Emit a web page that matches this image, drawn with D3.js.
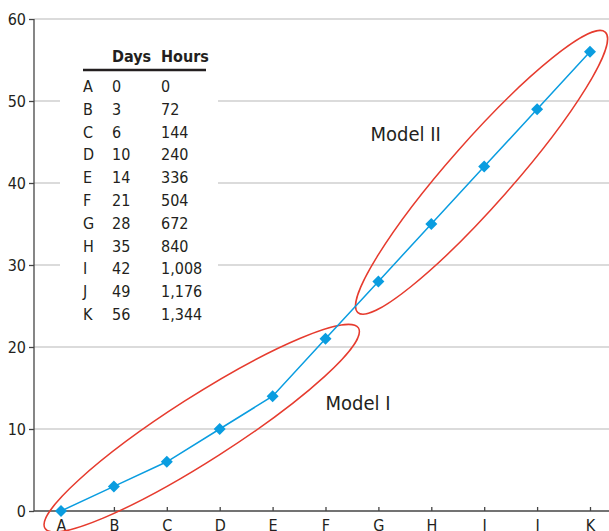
<!doctype html>
<html lang="en">
<head>
<meta charset="utf-8">
<title>Models</title>
<style>
    body { margin: 0; background: #fff; }
    svg { display: block; }
    text { font-family: "DejaVu Sans Condensed", "DejaVu Sans", sans-serif; fill: #231f20; }
    .grid line { stroke: #cfcfcf; stroke-width: 1.5px; }
    .axis path, .axis line { stroke: #444; stroke-width: 1.3px; }
    .axis text { font-size: 16px; fill: #231f20; }
    .series { fill: none; stroke: #0a9de0; stroke-width: 1.5px; }
    .marker { fill: #0a9de0; }
    .ring { fill: none; stroke: #e63b2e; stroke-width: 1.5px; }
    .tbl { font-size: 16px; }
    .tbl-head { font-weight: bold; font-size: 16px; }
    .model-label { font-size: 20px; }
</style>
</head>
<body>
<svg id="chart" width="609" height="531"></svg>

<script src="https://cdn.jsdelivr.net/npm/d3@7"></script>
<script>
// data
const categories = ["A", "B", "C", "D", "E", "F", "G", "H", "I", "J", "K"];
const days = [0, 3, 6, 10, 14, 21, 28, 35, 42, 49, 56];
const hours = ["0", "72", "144", "240", "336", "504", "672", "840", "1,008", "1,176", "1,344"];
const yTicks = [0, 10, 20, 30, 40, 50, 60];

// the two red rings: centre in (category index, days), rotation and radii in px
const models = [
    {label: "Model I",  cx: 2.66, cy: 10.1, angle: -32.6, rx: 186, ry: 32, tx: 5.0, ty: 12.3},
    {label: "Model II", cx: 7.95, cy: 41.3, angle: -48.6, rx: 187, ry: 32, tx: 5.85, ty: 45.1}
];

const svg = d3.select("#chart");

const x = d3.scalePoint().domain(categories).range([61, 590]);
const xi = d3.scaleLinear().domain([0, categories.length - 1]).range([61, 590]);
const y = d3.scaleLinear().domain([0, 60]).range([511, 19]);
const left = 34, right = 609;

// gridlines
svg.append("g")
    .attr("class", "grid")
    .selectAll("line")
    .data(yTicks.filter(d => d > 0))
    .join("line")
    .attr("x1", left).attr("x2", right)
    .attr("y1", d => y(d)).attr("y2", d => y(d));

// white box behind the table hides the grid
svg.append("rect")
    .attr("x", 60).attr("y", 36)
    .attr("width", 158).attr("height", 290)
    .attr("fill", "#fff");

// table
const tbl = svg.append("g").attr("class", "tbl");
tbl.append("text").attr("class", "tbl-head").attr("x", 112).attr("y", 62).text("Days");
tbl.append("text").attr("class", "tbl-head").attr("x", 161).attr("y", 62).text("Hours");
tbl.append("line")
    .attr("x1", 83).attr("x2", 206).attr("y1", 70).attr("y2", 70)
    .attr("stroke", "#231f20").attr("stroke-width", 2.5);

const rows = tbl.selectAll("g.row")
    .data(categories)
    .join("g")
    .attr("class", "row")
    .attr("transform", (d, i) => "translate(0," + (92 + i * 22.8) + ")");
rows.append("text").attr("x", 83).text(d => d);
rows.append("text").attr("x", 112).text((d, i) => days[i]);
rows.append("text").attr("x", 161).text((d, i) => hours[i]);

// y axis
svg.append("g")
    .attr("class", "axis axis--y")
    .attr("transform", "translate(" + left + ",0)")
    .call(d3.axisLeft(y).tickValues(yTicks).tickSizeInner(5).tickSizeOuter(0).tickPadding(3))
    .call(g => g.select(".domain").attr("d", "M0," + y(0) + "V" + y(60)));

// x axis (labels sit low, partly clipped by the bottom edge as in the original)
svg.append("g")
    .attr("class", "axis axis--x")
    .attr("transform", "translate(0," + y(0) + ")")
    .call(d3.axisBottom(x).tickSizeInner(-4).tickSizeOuter(0).tickPadding(6))
    .call(g => g.select(".domain").attr("d", "M" + left + ",0H" + right))
    .call(g => g.selectAll("text").attr("dy", "0.88em"));

// rings
svg.selectAll("ellipse.ring")
    .data(models)
    .join("ellipse")
    .attr("class", "ring")
    .attr("transform", d => "translate(" + xi(d.cx) + "," + y(d.cy) + ") rotate(" + d.angle + ")")
    .attr("rx", d => d.rx)
    .attr("ry", d => d.ry);

svg.selectAll("text.model-label")
    .data(models)
    .join("text")
    .attr("class", "model-label")
    .attr("x", d => xi(d.tx))
    .attr("y", d => y(d.ty))
    .text(d => d.label);

// series
const line = d3.line()
    .x((d, i) => x(categories[i]))
    .y(d => y(d));

svg.append("path")
    .datum(days)
    .attr("class", "series")
    .attr("d", line);

svg.selectAll("path.marker")
    .data(days)
    .join("path")
    .attr("class", "marker")
    .attr("transform", (d, i) => "translate(" + x(categories[i]) + "," + y(d) + ") rotate(45)")
    .attr("d", d3.symbol(d3.symbolSquare, 72));
</script>
</body>
</html>
